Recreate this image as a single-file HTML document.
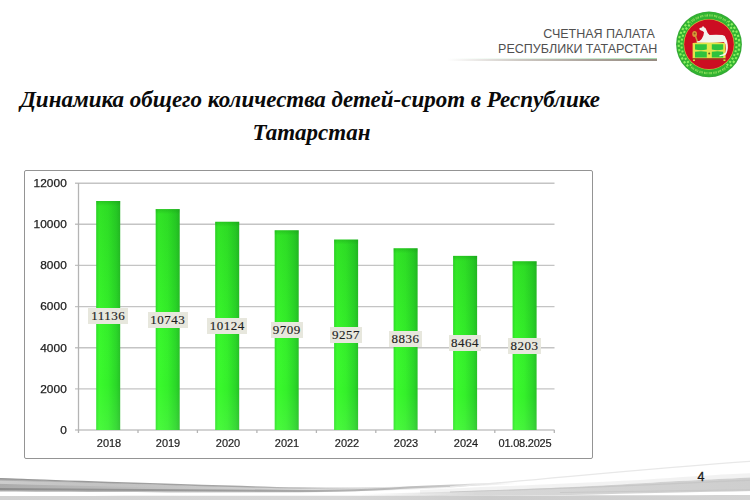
<!DOCTYPE html>
<html><head><meta charset="utf-8">
<style>
*{margin:0;padding:0;box-sizing:border-box}
html,body{width:750px;height:500px;overflow:hidden;background:#fff}
body{position:relative;font-family:"Liberation Sans",sans-serif}
.abs{position:absolute}
.hdr{position:absolute;right:93px;font-size:12.5px;color:#505050;white-space:nowrap;line-height:14px}
.title{position:absolute;left:10px;width:600px;text-align:center;font:italic bold 23px "Liberation Serif",serif;color:#0a0a0a;white-space:nowrap;line-height:33px}
.ylab{position:absolute;right:683.4px;width:40px;text-align:right;font-size:10.5px;letter-spacing:0.1px;transform:scaleX(1.13);transform-origin:100% 50%;color:#1e1e1e;line-height:12px;-webkit-text-stroke:0.25px #1e1e1e;margin-top:0.4px}
.xlab{position:absolute;width:70px;text-align:center;font-size:10px;letter-spacing:0px;transform:scaleX(1.1);color:#1e1e1e;line-height:12px;top:438px;margin-left:0.6px;-webkit-text-stroke:0.18px #1e1e1e}
.dl{position:absolute;height:16px;background:#e7e7dd;font:13px "Liberation Serif",serif;letter-spacing:0.5px;color:#1e1e1e;-webkit-text-stroke:0.15px #1e1e1e;line-height:16px;text-align:center}
.pg{position:absolute;left:697.6px;top:470px;font-size:12.5px;color:#1a1a1a;-webkit-text-stroke:0.3px #1a1a1a}
</style></head>
<body>
<!-- header -->
<div class="hdr" style="top:27px;right:95.2px">СЧЕТНАЯ ПАЛАТА</div>
<div class="hdr" style="top:42px;right:92.6px">РЕСПУБЛИКИ ТАТАРСТАН</div>
<div class="abs" style="left:447px;top:58.6px;width:210px;height:2.6px;background:linear-gradient(90deg,rgba(165,155,145,0),rgba(165,155,145,0.55) 35%,rgba(155,145,135,0.85) 70%,#958a80 100%)"></div>
<div class="abs" style="left:447px;top:57.6px;width:210px;height:1.2px;background:linear-gradient(90deg,rgba(170,220,180,0),rgba(170,220,180,0.5) 60%,#a6dcae)"></div>

<!-- logo -->
<svg class="abs" style="left:672px;top:8px" width="74" height="74" viewBox="0 0 74 74">
  <defs><clipPath id="sides"><polygon points="37,36.3 80,-15 80,88"/><polygon points="37,36.3 -6,-15 -6,88"/></clipPath><clipPath id="tb"><polygon points="37,36.3 80,-15 -6,-15"/><polygon points="37,36.3 80,88 -6,88"/></clipPath><filter id="lb" x="-10%" y="-10%" width="120%" height="120%"><feGaussianBlur stdDeviation="0.45"/></filter></defs>
  <g filter="url(#lb)">
  <circle cx="37" cy="36.3" r="32.9" fill="#38a838"/>
  <circle cx="37" cy="36.3" r="32.0" fill="#30b430"/>
  <g clip-path="url(#sides)">
  <circle cx="37" cy="36.3" r="30.3" fill="none" stroke="#8ef060" stroke-width="2.1" stroke-dasharray="2.2 2.2"/>
  <circle cx="37" cy="36.3" r="27.5" fill="none" stroke="#8ef060" stroke-width="2.1" stroke-dasharray="2.0 2.0" stroke-dashoffset="2.0"/>
  </g>
  <g clip-path="url(#tb)">
  <circle cx="37" cy="36.3" r="28.9" fill="none" stroke="#b8f070" stroke-width="2.2" stroke-dasharray="0.8 0.5 0.6 0.5 0.9 1.4" opacity="0.75"/>
  </g>
  <circle cx="37" cy="36.3" r="25.4" fill="#d8b840"/>
  <circle cx="37" cy="36.3" r="24.8" fill="#cc0a22"/>
  <!-- staff -->
  <path d="M23 27 L26 35" stroke="#c89840" stroke-width="1.6"/>
  <ellipse cx="22.6" cy="26" rx="2.4" ry="3" fill="#d89a38"/>
  <circle cx="22.6" cy="25.6" r="1" fill="#8a5a20"/>
  <!-- chest -->
  <path d="M20.6 35 Q37 33 53.4 35 L53.6 50.5 L20.6 50.5 Z" fill="#e2e64a"/>
  <path d="M23 36.2 H34.8 V41.6 Q29 43 23 41.6 Z" fill="#2ec23e"/>
  <path d="M39.8 36.2 H51.2 V41.6 Q45.5 43 39.8 41.6 Z" fill="#2ec23e"/>
  <path d="M23 43.8 Q29 42.6 34.8 43.8 V49.6 H23 Z" fill="#2ec23e"/>
  <path d="M39.8 43.8 Q45.5 42.6 51.2 43.8 V49.6 H39.8 Z" fill="#2ec23e"/>
  <circle cx="37.2" cy="45.4" r="1" fill="#6a5a20"/>
  <rect x="20.4" y="50.3" width="33.4" height="1.6" fill="#9a3a20"/><rect x="21" y="51.5" width="2" height="1.5" fill="#d8d840"/><rect x="51.4" y="51.5" width="2" height="1.5" fill="#d8d840"/>
  <!-- leopard -->
  <path d="M27.2 20.6 Q28.5 19.8 30 19.6 L31 17.8 L32 19.2 Q33.8 19.4 34.2 21.4 Q35.4 25.2 37.6 27 Q44 26.6 50.5 27 Q53.4 27.6 53.8 30.2 Q55.6 33 55.8 37 Q56.4 43 53.6 46.8 Q51 48.6 47.2 48.2 L47.6 47.2 Q51.6 47 53.4 44.6 Q54.6 41 53.6 36.4 Q53 34.6 51.6 34 L40 34.4 L26 34.6 Q24.2 34.4 24.6 33.4 L27.8 32.8 Q30.2 31 31.4 27.6 L32 24.2 Q30.6 22.6 29 22.4 Q27.4 22 27.2 20.6 Z" fill="#f4f4ee"/>
  </g>
</svg>

<!-- title -->
<div class="title" style="top:83px">Динамика общего количества детей-сирот в Республике</div>
<div class="title" style="top:115.5px;margin-left:1.5px">Татарстан</div>

<!-- chart box -->
<div class="abs" style="left:24px;top:170px;width:569px;height:289px;border:1.5px solid #949494;border-radius:2px;background:#fff"></div>

<svg class="abs" style="left:0;top:0" width="750" height="500">
  <defs>
    <linearGradient id="bar" x1="0" x2="1" y1="0" y2="0">
      <stop offset="0" stop-color="#30e02a"/>
      <stop offset="0.12" stop-color="#3afa2c"/>
      <stop offset="0.5" stop-color="#34f02a"/>
      <stop offset="0.85" stop-color="#2ad628"/>
      <stop offset="1" stop-color="#26c026"/>
    </linearGradient>
    <linearGradient id="bartop" x1="0" x2="0" y1="0" y2="1">
      <stop offset="0" stop-color="#108a10" stop-opacity="0.3"/>
      <stop offset="1" stop-color="#108a10" stop-opacity="0"/>
    </linearGradient>
    <linearGradient id="barv" x1="0" x2="0" y1="0" y2="1">
      <stop offset="0" stop-color="#0a6a0a" stop-opacity="0.16"/>
      <stop offset="0.5" stop-color="#0a6a0a" stop-opacity="0.03"/>
      <stop offset="0.8" stop-color="#ffffff" stop-opacity="0.0"/>
      <stop offset="1" stop-color="#ffffff" stop-opacity="0.08"/>
    </linearGradient>
  </defs>
  <g stroke="#c4c4c4" stroke-width="1.4">
    <line x1="75" x2="554.5" y1="183.2" y2="183.2"/>
    <line x1="75" x2="554.5" y1="224.3" y2="224.3"/>
    <line x1="75" x2="554.5" y1="265.4" y2="265.4"/>
    <line x1="75" x2="554.5" y1="306.6" y2="306.6"/>
    <line x1="75" x2="554.5" y1="347.7" y2="347.7"/>
    <line x1="75" x2="554.5" y1="388.9" y2="388.9"/>
    <line x1="75" x2="554.5" y1="430" y2="430"/>
  </g>
  <g stroke="#b4b4b4" stroke-width="1.3">
    <line x1="78.5" x2="78.5" y1="183" y2="433"/>
    <line x1="138" x2="138" y1="430" y2="433"/>
    <line x1="197.4" x2="197.4" y1="430" y2="433"/>
    <line x1="256.9" x2="256.9" y1="430" y2="433"/>
    <line x1="316.4" x2="316.4" y1="430" y2="433"/>
    <line x1="375.8" x2="375.8" y1="430" y2="433"/>
    <line x1="435.3" x2="435.3" y1="430" y2="433"/>
    <line x1="494.8" x2="494.8" y1="430" y2="433"/>
    <line x1="554.3" x2="554.3" y1="430" y2="433"/>
  </g>
  <g id="bars"><rect x="96.2" y="201.0" width="24" height="229.0" fill="url(#bar)"/><rect x="96.2" y="201.0" width="24" height="229.0" fill="url(#barv)"/><rect x="96.2" y="201.0" width="24" height="5" fill="url(#bartop)"/><rect x="155.7" y="209.1" width="24" height="220.9" fill="url(#bar)"/><rect x="155.7" y="209.1" width="24" height="220.9" fill="url(#barv)"/><rect x="155.7" y="209.1" width="24" height="5" fill="url(#bartop)"/><rect x="215.2" y="221.8" width="24" height="208.2" fill="url(#bar)"/><rect x="215.2" y="221.8" width="24" height="208.2" fill="url(#barv)"/><rect x="215.2" y="221.8" width="24" height="5" fill="url(#bartop)"/><rect x="274.7" y="230.3" width="24" height="199.7" fill="url(#bar)"/><rect x="274.7" y="230.3" width="24" height="199.7" fill="url(#barv)"/><rect x="274.7" y="230.3" width="24" height="5" fill="url(#bartop)"/><rect x="334.1" y="239.6" width="24" height="190.4" fill="url(#bar)"/><rect x="334.1" y="239.6" width="24" height="190.4" fill="url(#barv)"/><rect x="334.1" y="239.6" width="24" height="5" fill="url(#bartop)"/><rect x="393.6" y="248.3" width="24" height="181.7" fill="url(#bar)"/><rect x="393.6" y="248.3" width="24" height="181.7" fill="url(#barv)"/><rect x="393.6" y="248.3" width="24" height="5" fill="url(#bartop)"/><rect x="453.1" y="255.9" width="24" height="174.1" fill="url(#bar)"/><rect x="453.1" y="255.9" width="24" height="174.1" fill="url(#barv)"/><rect x="453.1" y="255.9" width="24" height="5" fill="url(#bartop)"/><rect x="512.6" y="261.3" width="24" height="168.7" fill="url(#bar)"/><rect x="512.6" y="261.3" width="24" height="168.7" fill="url(#barv)"/><rect x="512.6" y="261.3" width="24" height="5" fill="url(#bartop)"/></g>
</svg>
<div class="dl" style="left:88.2px;top:307.5px;width:40px">11136</div>
<div class="dl" style="left:147.7px;top:311.5px;width:40px">10743</div>
<div class="dl" style="left:207.2px;top:317.9px;width:40px">10124</div>
<div class="dl" style="left:270.5px;top:322.2px;width:32.4px">9709</div>
<div class="dl" style="left:329.9px;top:326.8px;width:32.4px">9257</div>
<div class="dl" style="left:389.4px;top:331.1px;width:32.4px">8836</div>
<div class="dl" style="left:448.9px;top:335.0px;width:32.4px">8464</div>
<div class="dl" style="left:508.4px;top:337.6px;width:32.4px">8203</div>
<div class="xlab" style="left:73.2px">2018</div>
<div class="xlab" style="left:132.7px">2019</div>
<div class="xlab" style="left:192.2px">2020</div>
<div class="xlab" style="left:251.7px">2021</div>
<div class="xlab" style="left:311.1px">2022</div>
<div class="xlab" style="left:370.6px">2023</div>
<div class="xlab" style="left:430.1px">2024</div>
<div class="xlab" style="left:489.6px;letter-spacing:-0.2px;margin-left:0px">01.08.2025</div>
<div class="ylab" style="top:176.7px">12000</div>
<div class="ylab" style="top:217.8px">10000</div>
<div class="ylab" style="top:259.0px">8000</div>
<div class="ylab" style="top:300.1px">6000</div>
<div class="ylab" style="top:341.2px">4000</div>
<div class="ylab" style="top:382.4px">2000</div>
<div class="ylab" style="top:423.5px">0</div>

<!-- swoosh -->
<svg class="abs" style="left:0;top:450px" width="750" height="50" viewBox="0 450 750 50">
  <defs>
    <filter id="sb" x="-5%" y="-50%" width="110%" height="200%"><feGaussianBlur stdDeviation="0.7"/></filter>
    <linearGradient id="sg1" x1="0" x2="750" y1="0" y2="0" gradientUnits="userSpaceOnUse">
      <stop offset="0" stop-color="#acacac"/>
      <stop offset="0.2" stop-color="#c0c0c0"/>
      <stop offset="0.4" stop-color="#d8d8d8"/>
      <stop offset="0.6" stop-color="#e4e4e4" stop-opacity="0.5"/>
      <stop offset="1" stop-color="#eeeeee" stop-opacity="0.3"/>
    </linearGradient>
    <linearGradient id="sgL" x1="0" x2="750" y1="0" y2="0" gradientUnits="userSpaceOnUse">
      <stop offset="0" stop-color="#8c8c8c"/>
      <stop offset="0.3" stop-color="#9c9c9c"/>
      <stop offset="0.5" stop-color="#b4b4b4"/>
      <stop offset="0.6" stop-color="#c8c8c8"/>
      <stop offset="0.69" stop-color="#dddddd" stop-opacity="0"/>
      <stop offset="1" stop-color="#e2e2e2" stop-opacity="0"/>
    </linearGradient>
    <linearGradient id="sg3" x1="0" x2="750" y1="0" y2="0" gradientUnits="userSpaceOnUse">
      <stop offset="0" stop-color="#d2d2d2"/>
      <stop offset="0.45" stop-color="#d8d8d8"/>
      <stop offset="0.65" stop-color="#cbcbcb"/>
      <stop offset="1" stop-color="#d4d4d4"/>
    </linearGradient>
    <linearGradient id="sg4" x1="0" x2="200" y1="0" y2="0" gradientUnits="userSpaceOnUse">
      <stop offset="0" stop-color="#cdcdcd"/><stop offset="1" stop-color="#cdcdcd" stop-opacity="0"/>
    </linearGradient>
    <linearGradient id="sg5" x1="360" x2="750" y1="0" y2="0" gradientUnits="userSpaceOnUse">
      <stop offset="0" stop-color="#d4d4d4" stop-opacity="0"/>
      <stop offset="0.3" stop-color="#d8d8d8"/>
      <stop offset="1" stop-color="#cecece"/>
    </linearGradient>
    <linearGradient id="sg7" x1="0" x2="420" y1="0" y2="0" gradientUnits="userSpaceOnUse">
      <stop offset="0" stop-color="#949494"/><stop offset="0.6" stop-color="#a8a8a8"/><stop offset="1" stop-color="#c8c8c8" stop-opacity="0"/>
    </linearGradient>
  </defs>
  <g filter="url(#sb)">
    <path d="M-5 496 C200 495.8 400 495.8 755 495 L755 502 L-5 502 Z" fill="url(#sg3)"/>
    <path d="M420 490 C480 487 560 484 640 480 C700 476 730 474 755 473 L755 478 C700 480 640 483 560 488 C500 491 450 493 420 494 Z" fill="#ececec" opacity="0.7"/>
    <path d="M360 494 C460 492 540 489 620 484.5 C680 481 720 479 755 477.5 L755 491 C700 492 640 493.5 570 495 C480 496 420 496 360 496 Z" fill="url(#sg5)"/>
    <path d="M450 492 C560 489 660 484 755 480" fill="none" stroke="#c4c4c4" stroke-width="1.2" opacity="0.8"/>
    <path d="M560 492.5 C640 491.5 700 490.5 755 489.5" fill="none" stroke="#c8c8c8" stroke-width="1.2"/>
    <path d="M-5 477.8 C120 484 200 486 300 487.5 C350 488 400 487 450 485.5 L450 488 C400 490 350 492 300 492.5 C200 492.5 120 492.5 -5 491.5 Z" fill="url(#sg1)"/>
    <path d="M-5 482 C60 484 120 485.5 200 487" fill="none" stroke="url(#sg4)" stroke-width="3.2"/>
    <path d="M-5 478.6 C100 482 200 486 300 488 C340 488.6 380 488 420 487" fill="none" stroke="url(#sg7)" stroke-width="1.3"/>
    <path d="M-5 489 C100 490 200 490.6 300 491 C350 491 380 489.5 400 488 C450 485.5 480 484.5 520 483" fill="none" stroke="url(#sgL)" stroke-width="2.2"/>
    <path d="M450 487 C560 478 640 469 755 461" fill="none" stroke="#e8e8e8" stroke-width="1.3"/>
  </g>
</svg>
<div class="pg">4</div>
</body></html>
